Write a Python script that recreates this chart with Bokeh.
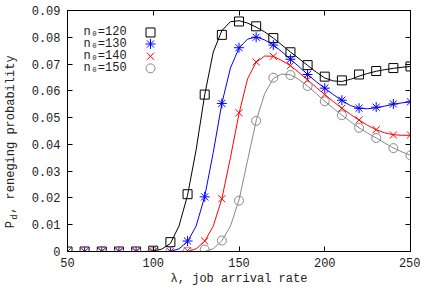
import math
from bokeh.plotting import figure
from bokeh.models import LinearAxis, Label, NumeralTickFormatter, FixedTicker, Range1d
from bokeh.core.properties import value
from bokeh.embed import file_html
from bokeh.resources import INLINE

# ---- data ----
lam_pts = [50, 60, 70, 80, 90, 100, 110, 120, 130, 140, 150, 160, 170, 180, 190, 200, 210, 220, 230, 240, 250]
sim_120 = [0, 0, 0, 0, 0, 0.0003, 0.0035, 0.0214, 0.0586, 0.0809, 0.0859, 0.0841, 0.0797, 0.0744, 0.0696, 0.0653, 0.0639, 0.0661, 0.0674, 0.0685, 0.0691]
sim_130 = [0, 0, 0, 0, 0, 0, 0, 0.0039, 0.0204, 0.0553, 0.0761, 0.0800, 0.0771, 0.0718, 0.0661, 0.0610, 0.0565, 0.0535, 0.0539, 0.0551, 0.0559]
sim_140 = [0, 0, 0, 0, 0, 0, 0, 0.0003, 0.0039, 0.0197, 0.0518, 0.0708, 0.0729, 0.0694, 0.0641, 0.0586, 0.0535, 0.0491, 0.0455, 0.0435, 0.0435]
sim_150 = [0, 0, 0, 0, 0, 0, 0, 0, 0.0007, 0.0041, 0.0190, 0.0488, 0.0649, 0.0659, 0.0618, 0.0561, 0.0509, 0.0462, 0.0424, 0.0386, 0.0359]

lam_curve = [50, 60, 70, 80, 90, 95, 100, 105, 110, 115, 120, 125, 130, 135, 140, 145, 150, 155, 160, 165,
             170, 175, 180, 185, 190, 195, 200, 205, 210, 215, 220, 225, 230, 235, 240, 245, 250]
model_120 = [0, 0, 0, 0, 0, 0, 0.0002, 0.0009, 0.0030, 0.0095, 0.0210, 0.0380, 0.0585, 0.0745, 0.0825, 0.0858,
             0.0862, 0.0853, 0.0838, 0.0820, 0.0797, 0.0771, 0.0745, 0.0720, 0.0695, 0.0670, 0.0648, 0.0637,
             0.0635, 0.0643, 0.0655, 0.0665, 0.0673, 0.0679, 0.0684, 0.0688, 0.0691]
model_130 = [0, 0, 0, 0, 0, 0, 0, 0, 0, 0.0010, 0.0037, 0.0095, 0.0205, 0.0370, 0.0553, 0.0685, 0.0760, 0.0793,
             0.0801, 0.0790, 0.0771, 0.0746, 0.0718, 0.0690, 0.0661, 0.0634, 0.0610, 0.0586, 0.0564, 0.0545,
             0.0535, 0.0533, 0.0537, 0.0543, 0.0550, 0.0555, 0.0559]
model_140 = [0, 0, 0, 0, 0, 0, 0, 0, 0, 0, 0, 0.0010, 0.0038, 0.0095, 0.0197, 0.0350, 0.0515, 0.0645, 0.0707,
             0.0730, 0.0729, 0.0713, 0.0694, 0.0668, 0.0641, 0.0613, 0.0586, 0.0560, 0.0535, 0.0512, 0.0491,
             0.0471, 0.0455, 0.0443, 0.0436, 0.0434, 0.0434]
model_150 = [0, 0, 0, 0, 0, 0, 0, 0, 0, 0, 0, 0, 0, 0.0010, 0.0040, 0.0095, 0.0192, 0.0340, 0.0488, 0.0590,
             0.0646, 0.0663, 0.0660, 0.0642, 0.0618, 0.0590, 0.0561, 0.0535, 0.0509, 0.0485, 0.0462, 0.0442,
             0.0424, 0.0405, 0.0387, 0.0372, 0.0359]

legend_labels = ["n\u2080=120", "n\u2080=130", "n\u2080=140", "n\u2080=150"]
x_ticks = [50, 100, 150, 200, 250]
y_ticks = [0, 0.01, 0.02, 0.03, 0.04, 0.05, 0.06, 0.07, 0.08, 0.09]

FONT = "Liberation Mono"
FS = "12px"
TXT = "#222222"

p = figure(width=420, height=288, output_backend="svg", toolbar_location=None,
           x_range=Range1d(50, 250), y_range=Range1d(0, 0.09),
           min_border_left=67, min_border_right=10, min_border_top=10, min_border_bottom=33)
p.background_fill_color = "white"
p.border_fill_color = "white"
p.grid.visible = False
p.outline_line_color = "black"
p.outline_line_width = 1

series = [
    (model_120, sim_120, "black", "square", 9),
    (model_130, sim_130, "#0000ff", "asterisk", 10),
    (model_140, sim_140, "#ff0000", "x", 10),
    (model_150, sim_150, "#888888", "circle", 9),
]
for model, sim, col, mk, sz in series:
    p.line(lam_curve, model, line_color=col, line_width=1)
for model, sim, col, mk, sz in series:
    p.scatter(lam_pts, sim, marker=mk, size=sz, line_color=col, fill_color=None, line_width=1)

# manual legend (labels left, symbols right)
leg_x_text = 59.3
leg_x_mark = 98.4
leg_y = [0.0818, 0.0775, 0.0729, 0.0684]
for i, (model, sim, col, mk, sz) in enumerate(series):
    p.text([leg_x_text], [leg_y[i]], text=[legend_labels[i]], text_font=value(FONT), text_font_size=FS,
           text_baseline="middle", text_align="left", text_color=TXT)
    p.scatter([leg_x_mark], [leg_y[i]], marker=mk, size=sz, line_color=col, fill_color=None, line_width=1)

def style_axis(ax, labels=True):
    ax.axis_line_color = "black"
    ax.major_tick_line_color = "black"
    ax.major_tick_in = 5
    ax.major_tick_out = 0
    ax.minor_tick_line_color = None
    ax.major_label_text_font = FONT
    if labels:
        ax.major_label_text_font_size = FS
        ax.major_label_text_color = TXT
    else:
        ax.major_label_text_font_size = "0px"
        ax.major_label_text_color = None
        ax.major_label_standoff = 0

xa = p.xaxis[0]
ya = p.yaxis[0]
xa.ticker = FixedTicker(ticks=x_ticks)
ya.ticker = FixedTicker(ticks=y_ticks)
ya.formatter = NumeralTickFormatter(format="0.[00]")
style_axis(xa)
style_axis(ya)
xa.major_label_standoff = 6
ya.major_label_standoff = 7
xa.axis_label = "\u03bb, job arrival rate"
xa.axis_label_text_font = FONT
xa.axis_label_text_font_size = FS
xa.axis_label_text_font_style = "normal"
xa.axis_label_standoff = 2
xa.axis_label_text_color = TXT

# y label: "P" + (subscript d as a separate label) + ", reneging probability"
ya.axis_label = "P\u00a0, reneging probability\u00a0\u00a0\u00a0"
ya.axis_label_text_font = FONT
ya.axis_label_text_font_size = FS
ya.axis_label_text_font_style = "normal"
ya.axis_label_standoff = 11
ya.axis_label_text_color = TXT

ra = LinearAxis(ticker=FixedTicker(ticks=y_ticks))
style_axis(ra, labels=False)
p.add_layout(ra, "right")
ta = LinearAxis(ticker=FixedTicker(ticks=x_ticks))
style_axis(ta, labels=False)
p.add_layout(ta, "above")

p.add_layout(Label(x=19.1, y=0.0119, text="d", angle=math.pi / 2, text_font=FONT, text_font_size="9px",
                   text_baseline="middle", text_align="left", text_color=TXT), "above")

open("out.html", "w").write(file_html(p, INLINE))
